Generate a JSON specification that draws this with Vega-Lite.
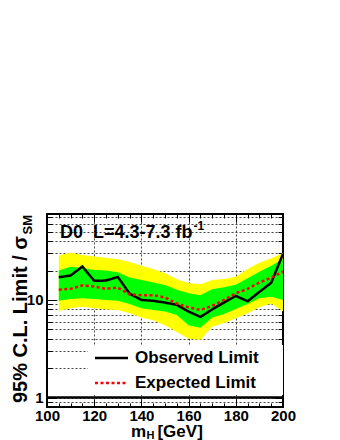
{
  "$schema": "https://vega.github.io/schema/vega-lite/v6.json",
  "width": 236,
  "height": 193,
  "autosize": {"type": "none"},
  "padding": {"left": 47, "top": 214, "right": 57, "bottom": 33},
  "background": "white",
  "config": {
    "view": {"stroke": "black", "strokeWidth": 2},
    "text": {"font": "Liberation Sans", "fontWeight": "bold", "color": "black"}
  },
  "datasets": {
    "limits": [
      {"m":105,"obs":17.1,"exp":12.7,"lo2":7.7,"lo1":9.8,"hi1":20.0,"hi2":28.5},
      {"m":110,"obs":17.8,"exp":13.0,"lo2":8.2,"lo1":10.2,"hi1":21.9,"hi2":30.6},
      {"m":115,"obs":22.0,"exp":14.1,"lo2":8.5,"lo1":10.4,"hi1":21.2,"hi2":28.9},
      {"m":120,"obs":15.7,"exp":13.7,"lo2":8.2,"lo1":10.2,"hi1":20.3,"hi2":27.8},
      {"m":125,"obs":15.8,"exp":13.0,"lo2":8.0,"lo1":10.0,"hi1":20.0,"hi2":27.1},
      {"m":130,"obs":17.2,"exp":13.4,"lo2":7.9,"lo1":9.8,"hi1":19.2,"hi2":26.2},
      {"m":135,"obs":11.6,"exp":11.4,"lo2":7.3,"lo1":9.1,"hi1":17.0,"hi2":24.5},
      {"m":140,"obs":10.0,"exp":11.2,"lo2":6.6,"lo1":8.2,"hi1":16.0,"hi2":22.4},
      {"m":145,"obs":9.8,"exp":11.2,"lo2":6.2,"lo1":7.9,"hi1":15.1,"hi2":20.7},
      {"m":150,"obs":9.4,"exp":10.6,"lo2":5.5,"lo1":7.6,"hi1":14.2,"hi2":18.8},
      {"m":155,"obs":8.9,"exp":9.2,"lo2":4.7,"lo1":7.0,"hi1":12.7,"hi2":16.3},
      {"m":160,"obs":7.6,"exp":8.4,"lo2":4.0,"lo1":5.5,"hi1":11.7,"hi2":14.9},
      {"m":165,"obs":6.7,"exp":7.9,"lo2":3.9,"lo1":5.2,"hi1":11.2,"hi2":14.5},
      {"m":170,"obs":8.0,"exp":8.7,"lo2":5.3,"lo1":6.6,"hi1":12.9,"hi2":16.0},
      {"m":175,"obs":9.4,"exp":10.0,"lo2":5.8,"lo1":7.2,"hi1":13.5,"hi2":16.4},
      {"m":180,"obs":11.0,"exp":11.7,"lo2":6.5,"lo1":8.1,"hi1":14.3,"hi2":17.3},
      {"m":185,"obs":9.7,"exp":13.0,"lo2":7.3,"lo1":9.1,"hi1":16.7,"hi2":20.7},
      {"m":190,"obs":12.1,"exp":15.1,"lo2":8.4,"lo1":10.4,"hi1":19.5,"hi2":24.1},
      {"m":195,"obs":15.0,"exp":16.9,"lo2":9.2,"lo1":10.8,"hi1":22.4,"hi2":26.8},
      {"m":200,"obs":29.7,"exp":19.5,"lo2":7.6,"lo1":10.0,"hi1":26.2,"hi2":30.2}
    ],
    "one": [{}]
  },
  "data": {"name": "one"},
  "resolve": {"axis": {"x": "independent", "y": "independent"}},
  "layer": [
    {
      "data": {"name": "limits"},
      "mark": {"type": "area", "color": "#ffff00", "interpolate": "linear"},
      "encoding": {
        "x": {"field": "m", "type": "quantitative", "scale": {"domain": [100, 200], "nice": false, "zero": false},
          "axis": {"orient": "bottom", "title": null, "values": [100, 120, 140, 160, 180, 200],
            "domain": false, "grid": true, "gridDash": [2, 2], "gridColor": "#444", "gridWidth": 1,
            "gridOpacity": {"condition": {"test": "datum.value > 100 && datum.value < 200", "value": 1}, "value": 0},
            "tickColor": "black", "tickWidth": 1, "tickSize": -8,
            "labelFont": "Liberation Sans", "labelFontWeight": "bold", "labelFontSize": 15, "labelColor": "black",
            "labelPadding": 9, "labelFlush": false, "labelOverlap": false}},
        "y": {"field": "lo2", "type": "quantitative", "scale": {"type": "log", "domain": [0.8, 76], "nice": false},
          "axis": {"orient": "left", "title": null, "values": [1, 10],
            "domain": false, "grid": true, "gridDash": [2, 2], "gridColor": "#444", "gridWidth": 1,
            "tickColor": "black", "tickWidth": 1, "tickSize": -9, "format": "d",
            "labelFont": "Liberation Sans", "labelFontWeight": "bold", "labelFontSize": 15, "labelColor": "black",
            "labelPadding": 13, "labelFlush": false, "labelOverlap": false}},
        "y2": {"field": "hi2"}
      }
    },
    {
      "data": {"name": "limits"},
      "mark": {"type": "area", "color": "#00ff00", "interpolate": "linear"},
      "encoding": {
        "x": {"field": "m", "type": "quantitative", "scale": {"domain": [100, 200], "nice": false, "zero": false},
          "axis": {"orient": "top", "title": null, "labels": false, "grid": false, "domain": false,
            "values": [100, 120, 140, 160, 180, 200], "tickColor": "black", "tickSize": -8}},
        "y": {"field": "lo1", "type": "quantitative", "scale": {"type": "log", "domain": [0.8, 76], "nice": false},
          "axis": {"orient": "right", "title": null, "labels": false, "grid": false, "domain": false,
            "values": [1, 10], "tickColor": "black", "tickSize": -9}},
        "y2": {"field": "hi1"}
      }
    },
    {
      "mark": {"type": "rect", "color": "white"},
      "encoding": {
        "x": {"datum": 117.3, "type": "quantitative", "scale": {"domain": [100, 200], "nice": false, "zero": false},
          "axis": {"orient": "top", "title": null, "labels": false, "grid": false, "domain": false,
            "values": [105,110,115,125,130,135,145,150,155,165,170,175,185,190,195], "tickColor": "black", "tickSize": -4}},
        "x2": {"datum": 200},
        "y": {"datum": 1.06, "type": "quantitative", "scale": {"type": "log", "domain": [0.8, 76], "nice": false},
          "axis": {"orient": "right", "title": null, "labels": false, "grid": false, "domain": false,
            "values": [0.9,2,3,4,5,6,7,8,9,20,30,40,50,60,70], "tickColor": "black", "tickSize": -5}},
        "y2": {"datum": 3.45}
      }
    },
    {
      "mark": {"type": "rule", "color": "black", "strokeWidth": 2.5},
      "encoding": {
        "y": {"datum": 1, "type": "quantitative", "scale": {"type": "log", "domain": [0.8, 76], "nice": false}, "axis": null}
      }
    },
    {
      "data": {"name": "limits"},
      "transform": [{"fold": ["obs", "exp"], "as": ["series", "val"]}],
      "mark": {"type": "line", "strokeWidth": 2.5},
      "encoding": {
        "x": {"field": "m", "type": "quantitative", "scale": {"domain": [100, 200], "nice": false, "zero": false},
          "axis": {"orient": "bottom", "title": null, "labels": false, "grid": false, "domain": false,
            "values": [105,110,115,125,130,135,145,150,155,165,170,175,185,190,195], "tickColor": "black", "tickSize": -4}},
        "y": {"field": "val", "type": "quantitative", "scale": {"type": "log", "domain": [0.8, 76], "nice": false},
          "axis": {"orient": "left", "title": null, "labels": false, "domain": false,
            "values": [0.9,2,3,4,5,6,7,8,9,20,30,40,50,60,70], "tickColor": "black", "tickSize": -5,
            "grid": true, "gridDash": [2, 2], "gridColor": "#444", "gridWidth": 1}},
        "color": {"field": "series", "type": "nominal", "scale": {"domain": ["obs", "exp"], "range": ["#000000", "#ff0000"]},
          "legend": {"orient": "none", "legendX": 56, "legendY": 135.5, "title": null, "symbolType": "M-3,0H3", "symbolSize": 121,
            "symbolStrokeWidth": 2.5, "labelFont": "Liberation Sans", "labelFontWeight": "bold", "labelFontSize": 17, "labelColor": "black",
            "labelOffset": 15, "rowPadding": 7, "padding": 0, "labelLimit": 300,
            "labelExpr": "datum.value == 'obs' ? 'Observed Limit' : 'Expected Limit'"}},
        "strokeDash": {"field": "series", "type": "nominal", "scale": {"domain": ["obs", "exp"], "range": [[1, 0], [3, 2.5]]},
          "legend": {"orient": "none", "legendX": 56, "legendY": 135.5, "title": null, "symbolType": "M-3,0H3", "symbolSize": 121,
            "symbolStrokeWidth": 2.5, "labelFont": "Liberation Sans", "labelFontWeight": "bold", "labelFontSize": 17, "labelColor": "black",
            "labelOffset": 15, "rowPadding": 7, "padding": 0, "labelLimit": 300,
            "labelExpr": "datum.value == 'obs' ? 'Observed Limit' : 'Expected Limit'"}}
      }
    },
    {
      "mark": {"type": "text", "text": "D0\u00a0\u00a0L=4.3-7.3 fb", "fontSize": 18, "align": "left", "baseline": "alphabetic"},
      "encoding": {
        "x": {"datum": 105.5, "type": "quantitative", "scale": {"domain": [100, 200], "nice": false, "zero": false}, "axis": null},
        "y": {"datum": 43.1, "type": "quantitative", "scale": {"type": "log", "domain": [0.8, 76], "nice": false}, "axis": null}
      }
    },
    {
      "mark": {"type": "text", "text": "-1", "fontSize": 12, "align": "left", "baseline": "alphabetic"},
      "encoding": {
        "x": {"datum": 162.1, "type": "quantitative", "scale": {"domain": [100, 200], "nice": false, "zero": false}, "axis": null},
        "y": {"datum": 51.5, "type": "quantitative", "scale": {"type": "log", "domain": [0.8, 76], "nice": false}, "axis": null}
      }
    },
    {
      "mark": {"type": "text", "text": "95% C.L. Limit / σ", "fontSize": 20, "angle": 270, "align": "right", "baseline": "middle"},
      "encoding": {
        "x": {"datum": 88.9, "type": "quantitative", "scale": {"domain": [100, 200], "nice": false, "zero": false}, "axis": null},
        "y": {"datum": 45.2, "type": "quantitative", "scale": {"type": "log", "domain": [0.8, 76], "nice": false}, "axis": null}
      }
    },
    {
      "mark": {"type": "text", "text": "SM", "fontSize": 13, "angle": 270, "align": "right", "baseline": "middle"},
      "encoding": {
        "x": {"datum": 92.0, "type": "quantitative", "scale": {"domain": [100, 200], "nice": false, "zero": false}, "axis": null},
        "y": {"datum": 74.4, "type": "quantitative", "scale": {"type": "log", "domain": [0.8, 76], "nice": false}, "axis": null}
      }
    },
    {
      "mark": {"type": "text", "text": "m", "fontSize": 17, "align": "left", "baseline": "alphabetic"},
      "encoding": {
        "x": {"datum": 135.6, "type": "quantitative", "scale": {"domain": [100, 200], "nice": false, "zero": false}, "axis": null},
        "y": {"datum": 0.393, "type": "quantitative", "scale": {"type": "log", "domain": [0.8, 76], "nice": false}, "axis": null}
      }
    },
    {
      "mark": {"type": "text", "text": "H", "fontSize": 11, "align": "left", "baseline": "alphabetic"},
      "encoding": {
        "x": {"datum": 142.2, "type": "quantitative", "scale": {"domain": [100, 200], "nice": false, "zero": false}, "axis": null},
        "y": {"datum": 0.3716, "type": "quantitative", "scale": {"type": "log", "domain": [0.8, 76], "nice": false}, "axis": null}
      }
    },
    {
      "mark": {"type": "text", "text": "[GeV]", "fontSize": 17, "align": "left", "baseline": "alphabetic"},
      "encoding": {
        "x": {"datum": 146.8, "type": "quantitative", "scale": {"domain": [100, 200], "nice": false, "zero": false}, "axis": null},
        "y": {"datum": 0.393, "type": "quantitative", "scale": {"type": "log", "domain": [0.8, 76], "nice": false}, "axis": null}
      }
    }
  ]
}
